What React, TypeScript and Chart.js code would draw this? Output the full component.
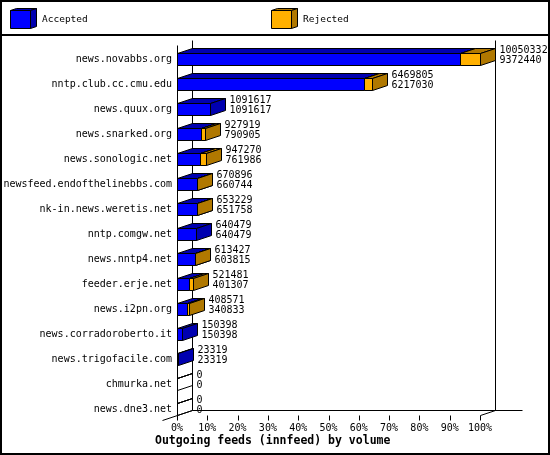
import { useEffect, useRef } from 'react';
import { Chart, registerables } from 'chart.js';

Chart.register(...registerables);

// feeds, sorted by accepted volume
const hosts = [
  'news.novabbs.org',
  'nntp.club.cc.cmu.edu',
  'news.quux.org',
  'news.snarked.org',
  'news.sonologic.net',
  'newsfeed.endofthelinebbs.com',
  'nk-in.news.weretis.net',
  'nntp.comgw.net',
  'news.nntp4.net',
  'feeder.erje.net',
  'news.i2pn.org',
  'news.corradoroberto.it',
  'news.trigofacile.com',
  'chmurka.net',
  'news.dne3.net',
];
const offered = [10050332, 6469805, 1091617, 927919, 947270, 670896, 653229, 640479, 613427, 521481, 408571, 150398, 23319, 0, 0];
const accepted = [9372440, 6217030, 1091617, 790905, 761986, 660744, 651758, 640479, 603815, 401307, 340833, 150398, 23319, 0, 0];
const seriesNames = ['Accepted', 'Rejected'];
const chartTitle = 'Outgoing feeds (innfeed) by volume';

const maxOffered = Math.max(...offered);
const acceptedPct = accepted.map((v) => (v / maxOffered) * 100);
const rejectedPct = offered.map((v, i) => ((v - accepted[i]) / maxOffered) * 100);

const BLUE = '#0000ff';
const BLUE_DARK = '#0000b0';
const ORANGE = '#ffb000';
const ORANGE_DARK = '#b07800';
const MONO = '"DejaVu Sans Mono", monospace';
const DX = 15;
const DY = 5;

const snap = (v: number) => Math.round(v) + 0.5;

function drawBox(
  ctx: CanvasRenderingContext2D,
  x0: number, x1: number, yT: number, yB: number,
  front: string, dark: string, fill: boolean, dx = DX, dy = DY
) {
  const faces = [
    [[x0, yT], [x1, yT], [x1, yB], [x0, yB]],
    [[x0, yT], [x0 + dx, yT - dy], [x1 + dx, yT - dy], [x1, yT]],
    [[x1, yT], [x1 + dx, yT - dy], [x1 + dx, yB - dy], [x1, yB]],
  ];
  ctx.lineWidth = 1;
  ctx.strokeStyle = '#000';
  faces.forEach((f, i) => {
    ctx.beginPath();
    f.forEach(([x, y], j) => (j ? ctx.lineTo(x, y) : ctx.moveTo(x, y)));
    ctx.closePath();
    if (fill) {
      ctx.fillStyle = i === 0 ? front : dark;
      ctx.fill();
    }
    ctx.stroke();
  });
}

function line(ctx: CanvasRenderingContext2D, x0: number, y0: number, x1: number, y1: number) {
  ctx.beginPath();
  ctx.moveTo(x0, y0);
  ctx.lineTo(x1, y1);
  ctx.stroke();
}

const bars3d = {
  id: 'bars3d',
  beforeDatasetsDraw(chart: any) {
    const { ctx, chartArea, scales } = chart;
    const xs = scales.x;
    const m0 = chart.getDatasetMeta(0);
    const m1 = chart.getDatasetMeta(1);
    const left = snap(xs.getPixelForValue(0));
    const right = snap(xs.getPixelForValue(100));
    const last = m0.data[m0.data.length - 1];
    const floor = snap(last.y + last.height / 2);
    const top = Math.round(chartArea.top) - 1.5;

    ctx.save();
    ctx.strokeStyle = '#000';
    ctx.lineWidth = 1;
    // walls and floor
    line(ctx, left, top, left, floor);
    line(ctx, left + DX, top - DY, left + DX, floor - DY);
    line(ctx, right + DX, top - DY, right + DX, floor - DY);
    line(ctx, left + DX, floor - DY, right + DX + 27, floor - DY);
    line(ctx, left - DX, floor + DY, left + DX, floor - DY);
    line(ctx, right, floor, right + DX, floor - DY);
    xs.ticks.forEach((t: any) => {
      const x = snap(xs.getPixelForValue(t.value));
      line(ctx, x, floor, x, floor + 5);
    });

    // bars
    ctx.font = `10px ${MONO}`;
    ctx.textBaseline = 'middle';
    ctx.textAlign = 'left';
    m0.data.forEach((a: any, i: number) => {
      const r = m1.data[i];
      const yT = snap(a.y - a.height / 2);
      const yB = snap(a.y + a.height / 2);
      const x0 = snap(a.base);
      const xa = snap(a.x);
      const xr = snap(r.x);
      if (offered[i] === 0) {
        drawBox(ctx, x0, x0, yT, yB, BLUE, BLUE_DARK, false);
      } else {
        drawBox(ctx, x0, xa, yT, yB, BLUE, BLUE_DARK, true);
        if (offered[i] > accepted[i]) drawBox(ctx, xa, xr, yT, yB, ORANGE, ORANGE_DARK, true);
      }
      const tx = Math.max(xa, xr) + DX + 4;
      ctx.fillStyle = '#000';
      ctx.fillText(String(offered[i]), tx, a.y - 8.5);
      ctx.fillText(String(accepted[i]), tx, a.y + 1.5);
    });
    ctx.restore();
    return false;
  },
  afterDraw(chart: any) {
    const { ctx, width, height } = chart;
    ctx.save();
    ctx.strokeStyle = '#000';
    ctx.lineWidth = 2;
    ctx.strokeRect(1, 1, width - 2, height - 2);
    line(ctx, 0, 35, width, 35);

    // legend
    const legendX = [10, 271];
    const colors = [[BLUE, BLUE_DARK], [ORANGE, ORANGE_DARK]];
    ctx.font = `9.5px ${MONO}`;
    ctx.textBaseline = 'middle';
    ctx.textAlign = 'left';
    seriesNames.forEach((name, i) => {
      const x = legendX[i] + 0.5;
      drawBox(ctx, x, x + 20, 10.5, 28.5, colors[i][0], colors[i][1], true, 6, 2);
      ctx.fillStyle = '#000';
      ctx.fillText(name, legendX[i] + 32, 20);
    });

    ctx.font = `bold 11.5px ${MONO}`;
    ctx.fillText(chartTitle, 155, 441);
    ctx.restore();
  },
};

export default function App() {
  const canvasRef = useRef<HTMLCanvasElement>(null);

  useEffect(() => {
    document.body.style.margin = '0';
    if (!canvasRef.current) return;

    const chart = new Chart(canvasRef.current, {
      type: 'bar',
      data: {
        labels: hosts,
        datasets: [
          { label: seriesNames[0], data: acceptedPct, backgroundColor: BLUE, barThickness: 12 },
          { label: seriesNames[1], data: rejectedPct, backgroundColor: ORANGE, barThickness: 12 },
        ],
      },
      options: {
        indexAxis: 'y',
        responsive: false,
        animation: false,
        devicePixelRatio: 1,
        layout: { padding: { top: 46.5, left: 0, right: 70, bottom: 0 } },
        plugins: {
          legend: { display: false },
          tooltip: { enabled: false },
        },
        scales: {
          x: {
            stacked: true,
            min: 0,
            max: 100,
            grid: { display: false, drawTicks: false },
            border: { display: false },
            ticks: {
              stepSize: 10,
              autoSkip: false,
              maxRotation: 0,
              padding: 1,
              color: '#000',
              font: { family: MONO, size: 10 },
              callback: (v: any) => `${v}%`,
            },
            afterFit: (s: any) => { s.height = 33.5; },
          },
          y: {
            stacked: true,
            grid: { display: false, drawTicks: false },
            border: { display: false },
            ticks: {
              autoSkip: false,
              padding: 5,
              color: '#000',
              font: { family: MONO, size: 10 },
            },
            afterFit: (s: any) => { s.width = 177; },
          },
        },
      },
      plugins: [bars3d],
    });

    return () => chart.destroy();
  }, []);

  return (
    <canvas
      ref={canvasRef}
      width={550}
      height={455}
      style={{ display: 'block', width: 550, height: 455 }}
    />
  );
}
